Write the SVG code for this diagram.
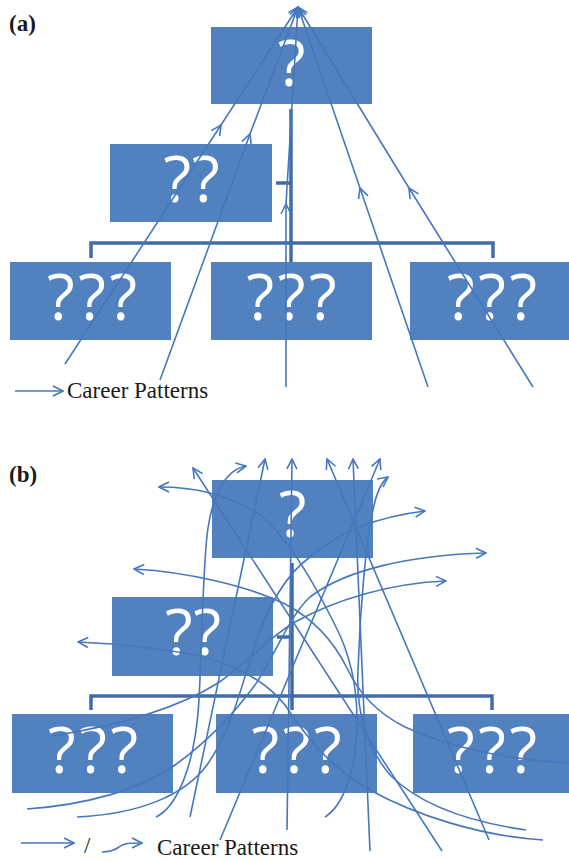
<svg xmlns="http://www.w3.org/2000/svg" width="569" height="861" viewBox="0 0 569 861">
  <style>
    .box { fill: #5181be; }
    .q { fill: #ffffff; font-family: "Open Sans", "Noto Sans", sans-serif; font-size: 64px; text-anchor: middle; }
    .org { fill: none; stroke: #416ba4; stroke-width: 3.5; }
    .path { fill: none; stroke: #4677be; stroke-width: 1.6; marker-end: url(#ah); }
    .seg { fill: none; stroke: #4677be; stroke-width: 1.6; }
    .lbl { font-family: "Liberation Serif", "Times New Roman", serif; font-weight: bold; font-size: 23px; fill: #1a1a1a; }
    .leg { font-family: "Liberation Serif", "Times New Roman", serif; font-size: 23px; fill: #1a1a1a; }
  </style>
  <defs>
    <marker id="ah" viewBox="0 0 12 12" refX="11" refY="6" markerWidth="12" markerHeight="12" markerUnits="userSpaceOnUse" orient="auto">
      <path d="M1,1 L11,6 L1,11" fill="none" stroke="#4677be" stroke-width="1.6"/>
    </marker>
  </defs>

  <!-- panel (a) -->
  <text class="lbl" x="9" y="31">(a)</text>
  <g id="a-top"><rect class="box" x="211" y="27" width="161" height="77"/><text class="q" x="291.5" y="86">?</text></g>
  <g id="a-mid"><rect class="box" x="110" y="144" width="162" height="78"/><text class="q" x="191.5" y="202" textLength="56" lengthAdjust="spacing">??</text></g>
  <g id="a-low1"><rect class="box" x="10" y="262" width="161" height="78"/><text class="q" x="92" y="320" textLength="90" lengthAdjust="spacing">???</text></g>
  <g id="a-low2"><rect class="box" x="211" y="262" width="161" height="78"/><text class="q" x="291.5" y="320" textLength="90" lengthAdjust="spacing">???</text></g>
  <g id="a-low3"><rect class="box" x="410" y="262" width="160" height="78"/><text class="q" x="492" y="320" textLength="90" lengthAdjust="spacing">???</text></g>

  <g id="a-connectors">
    <path class="org" d="M291,109 L291,262 M276,183 L291,183 M91,258 L91,243 L493,243 L493,258"/>
  </g>

  <g id="a-patterns">
    <path class="path" d="M65,364 L221,125"/><path class="path" d="M221,125 L298,7"/>
    <path class="path" d="M160,380 L250,134"/><path class="path" d="M250,134 L298,7"/>
    <path class="path" d="M286,387 L286,204"/><path class="path" d="M286,204 L298,7"/>
    <path class="path" d="M428,387 L360,188"/><path class="path" d="M360,188 L298,7"/>
    <path class="path" d="M533,387 L409,188"/><path class="path" d="M409,188 L298,7"/>
  </g>

  <g id="a-legend">
    <path class="path" d="M15,391 L63,391"/>
    <text class="leg" x="67" y="398">Career Patterns</text>
  </g>

  <!-- panel (b) -->
  <text class="lbl" x="9" y="482">(b)</text>
  <g id="b-top"><rect class="box" x="212" y="480" width="161" height="78"/><text class="q" x="292.5" y="537">?</text></g>
  <g id="b-mid"><rect class="box" x="112" y="597" width="161" height="79"/><text class="q" x="193" y="655" textLength="56" lengthAdjust="spacing">??</text></g>
  <g id="b-low1"><rect class="box" x="12" y="714" width="161" height="79"/><text class="q" x="93" y="773" textLength="90" lengthAdjust="spacing">???</text></g>
  <g id="b-low2"><rect class="box" x="216" y="714" width="161" height="79"/><text class="q" x="296.5" y="773" textLength="90" lengthAdjust="spacing">???</text></g>
  <g id="b-low3"><rect class="box" x="413" y="714" width="157" height="79"/><text class="q" x="492" y="773" textLength="90" lengthAdjust="spacing">???</text></g>

  <g id="b-connectors">
    <path class="org" d="M292,563 L292,710 M277,637 L292,637 M91,710 L91,696 L492,696 L492,710"/>
  </g>

  <g id="b-patterns">
    <!-- straight moves -->
    <path class="path" d="M220,840 L380,459"/>
    <path class="path" d="M287,830 L292,459"/>
    <path class="path" d="M370,851 L353,459"/>
    <path class="path" d="M442,851 L193,468"/>
    <path class="path" d="M489,840 L327,459"/>
    <path class="path" d="M190,817 L265,459"/>
    <!-- curved moves -->
    <path class="path" d="M156,817 C175,808 195,770 199,700 C203,620 203,560 208,528 C213,495 225,470 246,466"/>
    <path class="path" d="M526,830 C470,822 420,805 390,775 C365,745 356,710 358,670 C360,610 366,540 373,510 C376,495 380,483 388,477"/>
    <path class="path" d="M325,817 C343,806 357,770 357,720 C357,680 348,650 335,625 C315,585 290,540 260,515 C230,495 195,487 159,487"/>
    <path class="path" d="M569,763 C510,760 450,748 405,727 C375,712 358,692 347,668 C333,640 312,618 285,604 C250,587 190,572 134,569"/>
    <path class="path" d="M543,840 C480,836 415,815 370,790 C330,768 305,735 285,705 C265,680 235,665 200,656 C160,648 120,644 78,642"/>
    <path class="path" d="M77,817 C140,814 185,795 207,765 C228,735 238,700 250,660 C265,610 285,575 310,557 C340,532 375,517 425,511"/>
    <path class="path" d="M27,809 C85,805 140,790 175,765 C210,740 235,712 255,685 C275,655 290,615 310,597 C345,570 410,555 486,553"/>
    <path class="path" d="M52,736 C115,726 175,710 218,683 C245,665 265,640 295,622 C335,600 390,583 446,581"/>
  </g>

  <g id="b-legend">
    <path class="path" d="M21,843 L74,843"/>
    <text class="leg" x="84" y="853">/</text>
    <path class="path" d="M102,852 C110,852 115,850 119,847 C124,843 129,843 142,843"/>
    <text class="leg" x="157" y="855">Career Patterns</text>
  </g>
</svg>
